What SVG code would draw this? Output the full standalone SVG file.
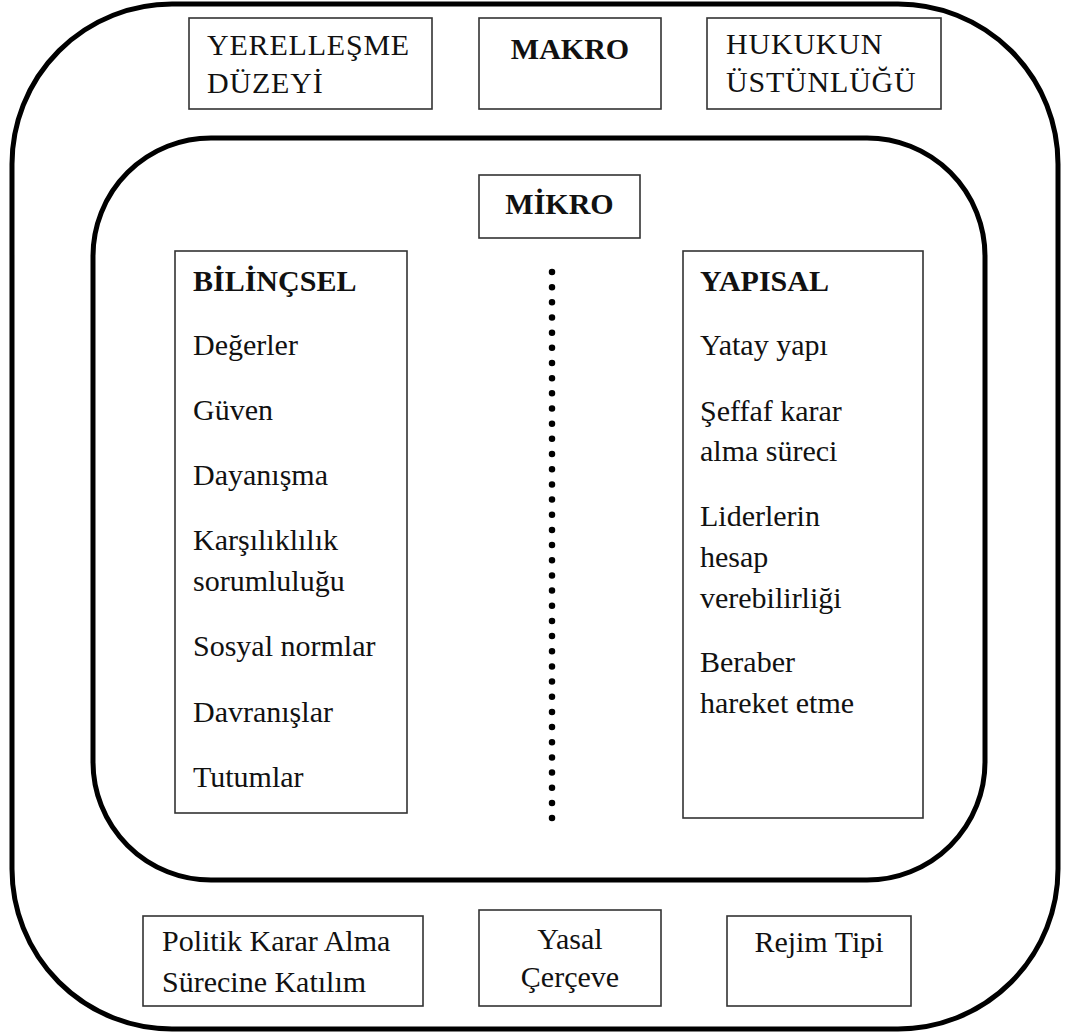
<svg xmlns="http://www.w3.org/2000/svg" width="1071" height="1035" viewBox="0 0 1071 1035">
<style>
.frame{fill:none;stroke:#000;stroke-width:5}
.box{fill:#fff;stroke:#333;stroke-width:1.6}
text{font-size:30px;fill:#111}
.b{font-weight:bold}
.c{text-anchor:middle}
</style>
<rect width="1071" height="1035" fill="#fff"/>
<g font-family="Liberation Serif, Tinos, DejaVu Serif, serif">
<g id="outer"><rect class="frame" x="12" y="4" width="1046" height="1025" rx="160" ry="160"/></g>
<g id="inner"><rect class="frame" x="93" y="138" width="892" height="742" rx="118" ry="118"/></g>
<g id="yerellesme"><rect class="box" x="189" y="18" width="243" height="91"/>
<text x="207" y="55" letter-spacing="0.8">YERELLEŞME</text><text x="207" y="93" letter-spacing="0.8">DÜZEYİ</text></g>
<g id="makro"><rect class="box" x="479" y="18" width="182" height="91"/>
<text class="b c" x="570" y="59">MAKRO</text></g>
<g id="hukukun"><rect class="box" x="707" y="18" width="234" height="91"/>
<text x="726" y="54" letter-spacing="0.8">HUKUKUN</text><text x="726" y="92" letter-spacing="0.8">ÜSTÜNLÜĞÜ</text></g>
<g id="mikro"><rect class="box" x="479" y="175" width="161" height="63"/>
<text class="b c" x="559.5" y="214">MİKRO</text></g>
<g id="bilincsel"><rect class="box" x="175" y="251" width="232" height="562"/>
<text class="b" x="193" y="291">BİLİNÇSEL</text>
<text x="193" y="355">Değerler</text>
<text x="193" y="420">Güven</text>
<text x="193" y="485">Dayanışma</text>
<text x="193" y="550">Karşılıklılık</text>
<text x="193" y="591">sorumluluğu</text>
<text x="193" y="656">Sosyal normlar</text>
<text x="193" y="722">Davranışlar</text>
<text x="193" y="787">Tutumlar</text></g>
<g id="yapisal"><rect class="box" x="683" y="251" width="240" height="567"/>
<text class="b" x="700" y="291">YAPISAL</text>
<text x="700" y="355">Yatay yapı</text>
<text x="700" y="421">Şeffaf karar</text>
<text x="700" y="461">alma süreci</text>
<text x="700" y="526">Liderlerin</text>
<text x="700" y="567">hesap</text>
<text x="700" y="608">verebilirliği</text>
<text x="700" y="672">Beraber</text>
<text x="700" y="713">hareket etme</text></g>
<g id="divider"><line x1="552" y1="272" x2="552" y2="821" stroke="#000" stroke-width="6.5" stroke-linecap="round" stroke-dasharray="0 15.17"/></g>
<g id="politik"><rect class="box" x="143" y="916" width="280" height="90"/>
<text x="162" y="951">Politik Karar Alma</text><text x="162" y="992">Sürecine Katılım</text></g>
<g id="yasal"><rect class="box" x="479" y="910" width="182" height="96"/>
<text class="c" x="570" y="949">Yasal</text><text class="c" x="570" y="987">Çerçeve</text></g>
<g id="rejim"><rect class="box" x="727" y="916" width="184" height="90"/>
<text class="c" x="819" y="952">Rejim Tipi</text></g>
<g id="connectors"></g>
</g>
</svg>
